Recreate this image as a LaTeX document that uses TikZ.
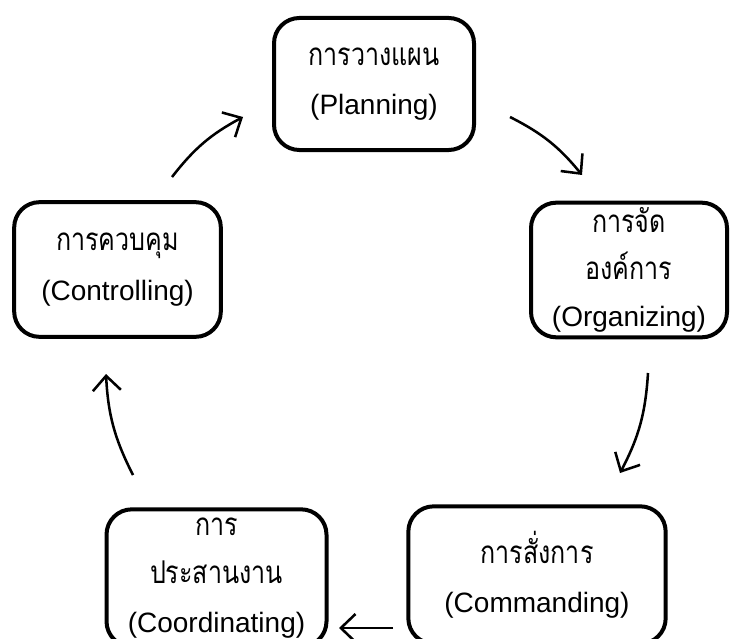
\documentclass[tikz,border=0pt]{standalone}
\usepackage{fontspec}
\setmainfont{Liberation Sans}
\newfontfamily\thai[Script=Thai,Scale=1.12,FakeStretch=0.8]{Loma}
\usetikzlibrary{arrows.meta}
\tikzset{
  box/.style={draw, line width=3pt, rounded corners=19pt, inner sep=0pt,
    align=center, font=\fontsize{21}{37}\selectfont},
  cyc/.style={line width=1.9pt, -{Straight Barb[length=11pt,width=21pt,line width=1.9pt]}}
}
\begin{document}
\begin{tikzpicture}[x=0.75pt,y=-0.75pt]
\useasboundingbox (0,0) rectangle (730,638);
\clip (0,0) rectangle (730,638);
\node[box, minimum width=150pt, minimum height=99pt] (plan) at (374,84)
  {{\thai การวางแผน}\\(Planning)};
\node[box, minimum width=147pt, minimum height=101pt, font=\fontsize{21}{35}\selectfont] (org) at (629,270)
  {{\thai การจัด}\\{\thai องค์การ}\\(Organizing)};
\node[box, minimum width=155pt, minimum height=101pt] (ctrl) at (117.5,269.5)
  {{\thai การควบคุม}\\(Controlling)};
\node[box, minimum width=165pt, minimum height=103pt, font=\fontsize{21}{36.5}\selectfont] (coord) at (216.5,578)
  {{\thai การ}\\{\thai ประสานงาน}\\(Coordinating)};
\node[box, minimum width=193pt, minimum height=103pt] (cmd) at (537,575)
  {{\thai การสั่งการ}\\(Commanding)};
\coordinate (a1s) at (172,177); \coordinate (a1e) at (243,117);
\coordinate (a2s) at (510,117); \coordinate (a2e) at (582,175);
\coordinate (a3s) at (648,373); \coordinate (a3e) at (620,473);
\coordinate (a4s) at (393,628); \coordinate (a4e) at (339,628);
\coordinate (a5s) at (133,475); \coordinate (a5e) at (106,374);
\draw[cyc] (a1s) to[bend left=12] (a1e);
\draw[cyc] (a2s) to[bend left=12] (a2e);
\draw[cyc] (a3s) to[bend left=12] (a3e);
\draw[cyc] (a4s) -- (a4e);
\draw[cyc] (a5s) to[bend left=12] (a5e);
\end{tikzpicture}
\end{document}
